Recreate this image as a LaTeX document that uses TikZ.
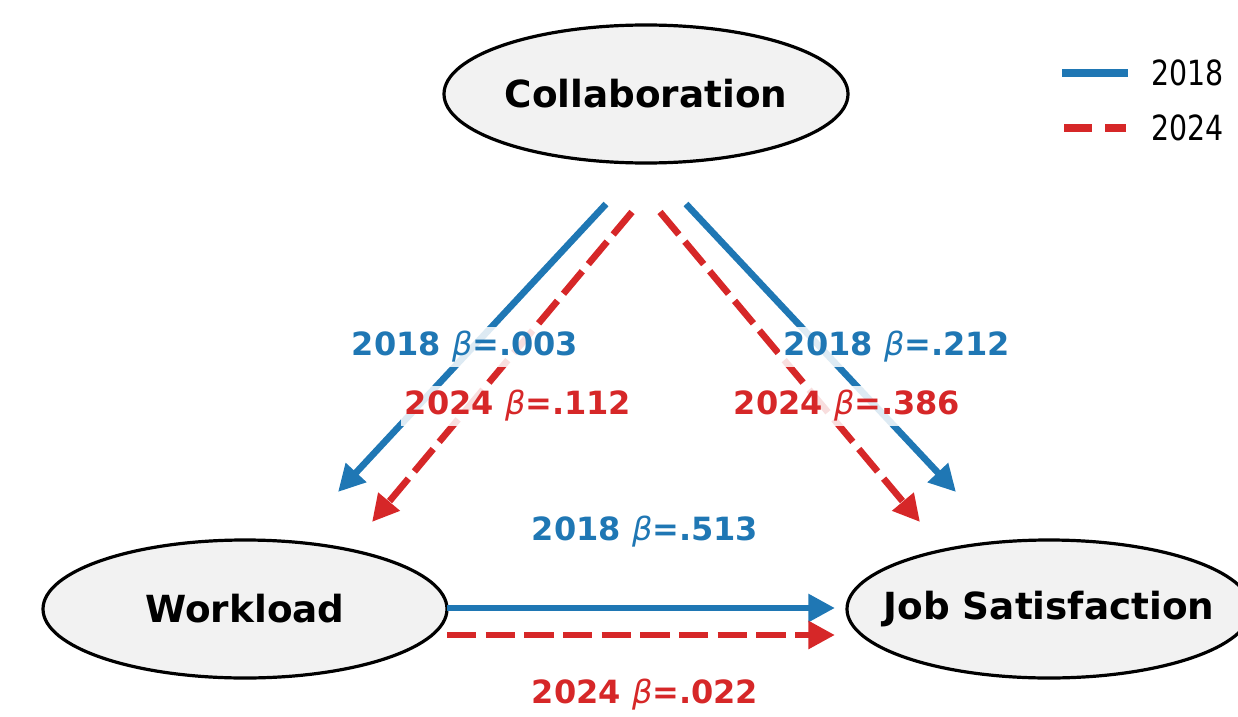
\documentclass[tikz,border=0pt]{standalone}
\usepackage{fontspec}
\setmainfont{DejaVu Sans}
\newfontfamily\legfont[FakeStretch=0.82]{DejaVu Sans}
\usetikzlibrary{arrows.meta,shapes.geometric}
\definecolor{cblue}{HTML}{1F77B4}
\definecolor{cred}{HTML}{D62728}
\definecolor{cgray}{HTML}{F2F2F2}
\tikzset{
  var/.style={ellipse, draw=black, line width=2.4pt, fill=cgray, minimum width=303pt, minimum height=103.5pt, inner xsep=-30pt, inner ysep=0pt, font=\fontsize{28}{34}\selectfont\bfseries},
  arr18/.style={draw=cblue, line width=5pt, -{Triangle[length=20pt,width=20pt]}},
  arr24/.style={draw=cred, line width=5pt, dash pattern=on 22pt off 7pt, -{Triangle[length=20pt,width=20pt]}},
  lab/.style={fill=white, fill opacity=0.85, text opacity=1, inner sep=3pt, font=\fontsize{24}{29}\selectfont\bfseries},
  leg/.style={anchor=west, inner sep=0pt, font=\fontsize{26}{30}\legfont}
}
\newcommand{\betasym}{{\normalfont\itshape β}}
\begin{document}
\begin{tikzpicture}[x=0.75pt,y=-0.75pt]
\useasboundingbox (0,0) rectangle (1238,717);
\node[var] (col) at (646,94) {Collaboration};
\node[var] (wl) at (245,609) {Workload};
\node[var] (js) at (1049,609) {Job Satisfaction};
% arrow end points
\coordinate (cwb1) at (606,204); \coordinate (cwb2) at (338,492);
\coordinate (cwr1) at (632,212); \coordinate (cwr2) at (372,522);
\coordinate (cjb1) at (686,204); \coordinate (cjb2) at (956,492);
\coordinate (cjr1) at (660,212); \coordinate (cjr2) at (920,522);
\coordinate (wjb1) at (447,608); \coordinate (wjb2) at (835,608);
\coordinate (wjr1) at (447,635); \coordinate (wjr2) at (835,635);
\draw[arr18] (cwb1) -- (cwb2);
\draw[arr24] (cwr1) -- (cwr2);
\draw[arr18] (cjb1) -- (cjb2);
\draw[arr24] (cjr1) -- (cjr2);
\draw[arr18] (wjb1) -- (wjb2);
\draw[arr24] (wjr1) -- (wjr2);
% labels
\node[lab, text=cblue] (l1) at (465,347) {2018 \betasym=.003};
\node[lab, text=cred] (l2) at (518,406) {2024 \betasym=.112};
\node[lab, text=cblue] (l3) at (897,347) {2018 \betasym=.212};
\node[lab, text=cred] (l4) at (847,406) {2024 \betasym=.386};
\node[lab, text=cblue] (l5) at (645,532) {2018 \betasym=.513};
\node[lab, text=cred] (l6) at (645,695) {2024 \betasym=.022};
% legend
\coordinate (lg1a) at (1062,73); \coordinate (lg1b) at (1128,73);
\coordinate (lg2a) at (1064,128); \coordinate (lg2b) at (1126,128);
\draw[cblue, line width=6pt] (lg1a) -- (lg1b);
\draw[cred, line width=6pt, dash pattern=on 21pt off 10pt] (lg2a) -- (lg2b);
\node[leg] (t1) at (1151,73) {2018};
\node[leg] (t2) at (1151,128) {2024};
\end{tikzpicture}
\end{document}
